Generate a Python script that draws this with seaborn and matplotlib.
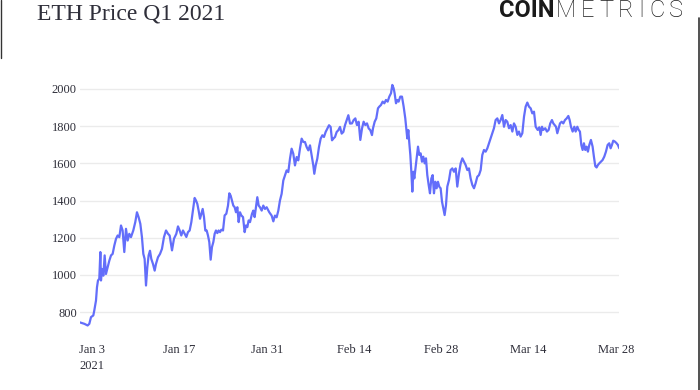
import matplotlib
matplotlib.use("Agg")
import matplotlib.pyplot as plt
from matplotlib.lines import Line2D
import pandas as pd
import seaborn as sns

# ---- data ----
# days since 2021-01-01 00:00
days = [
    0.0, 0.76, 1.29, 1.56, 1.83, 2.2, 2.36, 2.63, 2.79, 2.95, 3.16, 3.33, 3.43, 3.59, 3.81,
    4.02, 4.23, 4.5, 4.77, 5.04, 5.3, 5.57, 5.84, 6.1, 6.37, 6.64, 6.9, 7.17, 7.44, 7.71,
    7.97, 8.24, 8.61, 8.93, 9.2, 9.47, 9.74, 10.0, 10.22, 10.43, 10.65, 10.86, 11.07, 11.29,
    11.5, 11.77, 12.04, 12.25, 12.57, 12.9, 13.21, 13.53, 13.86,
    14.18, 14.44, 14.82, 15.14, 15.51, 15.78, 16.05, 16.31, 16.58, 16.85, 17.12, 17.38,
    17.65, 17.92, 18.18, 18.45, 18.67, 18.88, 19.09, 19.31, 19.52, 19.74, 19.95, 20.16,
    20.38, 20.59, 20.8, 21.02, 21.23, 21.45, 21.66, 21.87, 22.09, 22.3, 22.51, 22.73, 23.0,
    23.26, 23.53, 23.8, 24.01, 24.22, 24.44, 24.65, 24.87, 25.08, 25.3, 25.51, 25.72, 25.94,
    26.21, 26.47, 26.68, 26.9, 27.11, 27.33, 27.65, 27.86, 28.07, 28.29, 28.5, 28.72,
    28.93, 29.2, 29.46, 29.73, 30.0, 30.42, 30.8, 31.07, 31.33, 31.6, 31.87, 32.13, 32.4,
    32.67, 32.94, 33.2, 33.47, 33.74, 34.0, 34.27, 34.54, 34.81, 35.07, 35.34, 35.61, 35.88,
    36.14, 36.41, 36.68, 36.95, 37.21, 37.48, 37.64, 37.86, 38.12, 38.39, 38.66, 38.93,
    39.19, 39.46, 39.73, 40.0, 40.26, 40.48, 40.69, 40.96, 41.23, 41.49, 41.76, 42.03, 42.3,
    42.56, 42.83, 43.1, 43.37,
    43.68, 43.95, 44.22, 44.48, 44.75, 45.02, 45.29, 45.55, 45.82, 46.09, 46.36, 46.62,
    46.89, 47.05, 47.32, 47.58, 47.85, 48.06, 48.33, 48.6, 48.87, 49.13, 49.4, 49.67, 49.94,
    50.15, 50.36, 50.52, 50.74, 50.95, 51.16, 51.43, 51.7, 51.97, 52.23, 52.39, 52.55, 52.72,
    52.88, 53.04, 53.2, 53.36, 53.52, 53.68, 53.84, 54.05, 54.27, 54.48, 54.69, 54.91, 55.12,
    55.34, 55.55, 55.76, 55.98, 56.19, 56.41, 56.62, 56.83, 57.05, 57.26, 57.47, 57.69, 57.9,
    58.12, 58.33, 58.54, 58.76,
    58.97, 59.24, 59.5, 59.77, 60.04, 60.31, 60.57, 60.84, 61.11, 61.38, 61.64, 61.91, 62.18,
    62.44, 62.71, 62.98, 63.25, 63.51, 63.78, 64.05, 64.32, 64.58, 64.85, 65.12, 65.39, 65.65,
    65.92, 66.19, 66.45, 66.72, 66.99, 67.26, 67.52, 67.79, 68.06, 68.33, 68.59, 68.86, 69.13,
    69.4, 69.66, 69.93, 70.2, 70.46, 70.73, 71.0, 71.27, 71.53, 71.8, 72.07, 72.34, 72.6,
    72.87, 73.14,
    73.46, 73.72, 73.94, 74.15, 74.36, 74.68, 74.95, 75.22, 75.48, 75.75, 75.97, 76.18, 76.4,
    76.61, 76.82, 77.04, 77.31, 77.57, 77.84, 78.11, 78.38, 78.59, 78.8, 79.07, 79.34, 79.55,
    79.82, 80.03, 80.24, 80.46, 80.67, 80.88, 81.1, 81.31, 81.52, 81.74, 82.0, 82.27, 82.48,
    82.7, 82.91, 83.12, 83.34, 83.61, 83.87, 84.14, 84.41, 84.68, 84.94, 85.16, 85.37, 85.58,
    85.85, 86.12, 86.33, 86.55,
]

price_usd = [
    745, 737, 728, 737, 773, 782, 809, 862, 934, 970, 979, 1123, 970, 1032, 996,
    1105, 1005, 1041, 1077, 1105, 1113, 1158, 1194, 1212, 1203, 1266, 1239, 1123, 1248, 1185,
    1221, 1203, 1239, 1284, 1337, 1310, 1275, 1203, 1113, 1086, 943, 1041, 1105, 1130,
    1086, 1059, 1023, 1059, 1095, 1113, 1140, 1203, 1239,
    1221, 1212, 1132, 1195, 1221, 1261, 1239, 1212, 1239, 1221, 1204, 1230,
    1239, 1284, 1346, 1414, 1400, 1382, 1346, 1302, 1329, 1355, 1311, 1239,
    1239, 1212, 1177, 1082, 1150, 1177, 1221, 1239, 1225, 1239, 1230, 1243, 1239,
    1320, 1329, 1373, 1439, 1427, 1400, 1373, 1364, 1337, 1364, 1284, 1337, 1320,
    1311, 1230, 1266, 1257, 1293, 1284, 1329, 1346, 1311, 1364, 1418, 1373,
    1364, 1346, 1373, 1355, 1364, 1337, 1319, 1288, 1319, 1310, 1346, 1400, 1436,
    1508, 1535, 1562, 1553, 1625, 1679, 1652, 1589, 1634, 1616, 1679, 1733, 1715,
    1715, 1688, 1670, 1697, 1643, 1589, 1544, 1589, 1625, 1688, 1733, 1751,
    1742, 1769, 1787, 1805, 1796, 1724, 1733, 1742, 1769, 1778, 1796, 1760, 1769,
    1805, 1832, 1859, 1814,
    1815, 1833, 1842, 1806, 1824, 1726, 1788, 1824, 1806, 1815, 1788, 1779,
    1752, 1788, 1824, 1842, 1896, 1905, 1914, 1932, 1923, 1941, 1932, 1959, 1977,
    2022, 2004, 1977, 1923, 1941, 1932, 1959, 1959, 1905, 1842, 1788, 1734, 1779,
    1708, 1645, 1555, 1448, 1555, 1519, 1564, 1627, 1690, 1645, 1654, 1609, 1636,
    1600, 1627, 1537, 1484, 1439, 1519, 1537, 1439, 1501, 1466, 1501, 1474, 1466,
    1394, 1358, 1322, 1376,
    1475, 1510, 1564, 1573, 1555, 1573, 1475, 1546, 1600, 1627, 1609, 1591, 1564,
    1573, 1519, 1484, 1466, 1493, 1528, 1537, 1564, 1645, 1672, 1663, 1681, 1708,
    1735, 1762, 1789, 1833, 1842, 1815, 1833, 1860, 1797, 1833, 1824, 1789, 1806,
    1771, 1815, 1797, 1753, 1771, 1744, 1762, 1851, 1905, 1927, 1905, 1896, 1869,
    1878, 1797,
    1780, 1794, 1753, 1797, 1780, 1789, 1771, 1780, 1815, 1833, 1815, 1806, 1797,
    1762, 1789, 1815, 1824, 1815, 1833, 1842, 1855, 1833, 1797, 1771, 1797, 1771,
    1797, 1780, 1771, 1699, 1672, 1708, 1672, 1690, 1663, 1699, 1726, 1690, 1636,
    1585, 1578, 1591, 1600, 1609, 1618, 1636, 1663, 1699, 1708, 1681, 1699, 1722,
    1717, 1708, 1699, 1681,
]

start_date = "2021-01-01"
tick_dates = ["2021-01-03", "2021-01-17", "2021-01-31", "2021-02-14",
              "2021-02-28", "2021-03-14", "2021-03-28"]
tick_labels = ["Jan 3\n2021", "Jan 17", "Jan 31", "Feb 14", "Feb 28", "Mar 14", "Mar 28"]
y_ticks = [800, 1000, 1200, 1400, 1600, 1800, 2000]
title = "ETH Price Q1 2021"

# ---- build frame ----
df = pd.DataFrame({
    "time": pd.Timestamp(start_date) + pd.to_timedelta(days, unit="D"),
    "price": price_usd,
})

sns.set_style("white")
serif = ["Liberation Serif", "DejaVu Serif"]
plt.rcParams["font.family"] = serif
text_color = "#2f2f3a"

fig = plt.figure(figsize=(7.0, 3.9), dpi=100)
ax = fig.add_axes([0.1137, 0.1497, 0.771, 0.665])

sns.lineplot(data=df, x="time", y="price", ax=ax, color="#636efa", linewidth=1.6)

ax.set_xlim(df["time"].iloc[0], df["time"].iloc[-1])
ax.set_ylim(695, 2090)
ax.set_yticks(y_ticks)
ax.set_yticklabels([str(v) for v in y_ticks])
ax.set_xticks(pd.to_datetime(tick_dates))
ax.set_xticklabels(tick_labels, linespacing=1.45)
ax.tick_params(axis="both", labelfontfamily="Liberation Serif", labelsize=9,
               labelcolor=text_color, length=0)
ax.tick_params(axis="y", pad=2)
ax.tick_params(axis="x", pad=9)
ax.grid(axis="y", color="#ebebeb", linewidth=1)
ax.grid(axis="x", visible=False)
ax.set_axisbelow(True)
for s in ax.spines.values():
    s.set_visible(False)
ax.set_xlabel("")
ax.set_ylabel("")

# title
fig.text(37 / 700, 1 - 14 / 390, title, fontfamily=serif, fontsize=17,
         color=text_color, ha="left", va="center")

# logo
logo_font = ["Roboto", "DejaVu Sans"]
base_y = 1 - 17 / 390
fig.text(499 / 700, base_y, "COIN", fontfamily=logo_font,
         fontweight="bold", fontsize=17, color="#1a1a1a", ha="left", va="baseline")

# METRICS with letter spacing spread over x = 556..683 px
renderer = fig.canvas.get_renderer()
letters = "METRICS"
arts = []
widths = []
for ch in letters:
    t = fig.text(0, base_y, ch, fontfamily=logo_font, fontweight="light", fontsize=17,
                 color="#1a1a1a", ha="left", va="baseline")
    arts.append(t)
    widths.append(t.get_window_extent(renderer).width)
x0, x1 = 556.0, 683.0
gap = ((x1 - x0) - sum(widths)) / (len(letters) - 1)
cur = x0
for t, w in zip(arts, widths):
    t.set_x(cur / 700)
    cur += w + gap

# screenshot frame edges
fig.add_artist(Line2D([0.5 / 700, 0.5 / 700], [1, 1 - 58 / 390], color="#333333",
                      linewidth=1, transform=fig.transFigure))
fig.add_artist(Line2D([698.5 / 700, 698.5 / 700], [1 - 18 / 390, 0], color="#333333",
                      linewidth=1.2, transform=fig.transFigure))

fig.savefig("out.png", dpi=100)
